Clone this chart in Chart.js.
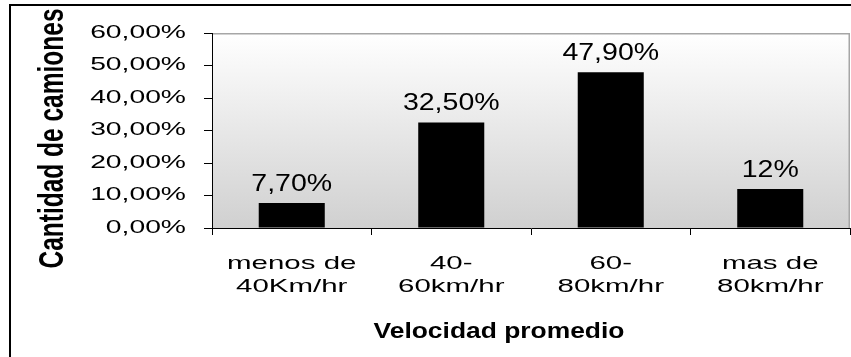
<!DOCTYPE html>
<html>
<head>
<meta charset="utf-8">
<script src="https://cdn.jsdelivr.net/npm/chart.js@4.4.1/dist/chart.umd.min.js"></script>
<style>
  html, body { margin:0; padding:0; background:#fff; overflow:hidden; }
  #frame { position:absolute; left:9px; top:4px; width:900px; height:400px; border:2px solid #000; }
  #chart { position:absolute; left:0; top:0; }
</style>
</head>
<body>
<div id="frame"></div>
<canvas id="chart" width="851" height="357"></canvas>
<script>
const categories = [["menos de", "40Km/hr"], ["40-", "60km/hr"], ["60-", "80km/hr"], ["mas de", "80km/hr"]];
const shares = [7.7, 32.5, 47.9, 12];
const shareLabels = ["7,70%", "32,50%", "47,90%", "12%"];
const yTicks = [0, 10, 20, 30, 40, 50, 60];
const yTitle = "Cantidad de camiones";
const xTitle = "Velocidad promedio";

const FONT = "'Liberation Sans', Arial, sans-serif";

// the source picture was widened, so horizontal text is drawn stretched (keyed by font size)
const TEXT_STRETCH = { 18: 1.57, 19: 1.55, 22: 1.2, 23: 1.24 };

function widenText(ctx) {
  const fillText = ctx.fillText.bind(ctx);
  ctx.fillText = (text, x, y, maxWidth) => {
    const m = ctx.getTransform();
    const size = parseFloat((ctx.font.match(/([\d.]+)px/) || [])[1]);
    const k = TEXT_STRETCH[size];
    if (!k || m.b !== 0) return fillText(text, x, y, maxWidth);
    ctx.save();
    ctx.translate(x, y);
    ctx.scale(k, 1);
    fillText(text, 0, 0);
    ctx.restore();
  };
}

const plotBackground = {
  id: "plotBackground",
  beforeDraw(chart) {
    const { ctx, chartArea: a } = chart;
    const g = ctx.createLinearGradient(0, a.top, 0, a.bottom);
    g.addColorStop(0, "#ffffff");
    g.addColorStop(1, "#d0d0d0");
    ctx.save();
    ctx.fillStyle = g;
    ctx.fillRect(a.left, a.top, a.right - a.left, a.bottom - a.top);
    ctx.strokeStyle = "#a6a6a6";
    ctx.lineWidth = 1.5;
    ctx.beginPath();
    ctx.moveTo(a.left, a.top + 0.75);
    ctx.lineTo(a.right - 0.75, a.top + 0.75);
    ctx.lineTo(a.right - 0.75, a.bottom);
    ctx.stroke();
    ctx.restore();
  }
};

const barLabels = {
  id: "barLabels",
  afterDatasetsDraw(chart) {
    const { ctx } = chart;
    ctx.save();
    ctx.font = "23px " + FONT;
    ctx.fillStyle = "#000";
    ctx.textAlign = "center";
    ctx.textBaseline = "alphabetic";
    chart.getDatasetMeta(0).data.forEach((bar, i) => {
      ctx.fillText(shareLabels[i], bar.x, bar.y - 12);
    });
    ctx.restore();
  }
};

const axisTitles = {
  id: "axisTitles",
  afterDraw(chart) {
    const { ctx, chartArea: a } = chart;
    ctx.save();
    ctx.fillStyle = "#000";
    ctx.textAlign = "center";
    ctx.textBaseline = "alphabetic";
    ctx.font = "bold 22px " + FONT;
    ctx.fillText(xTitle, (a.left + a.right) / 2 - 32, a.bottom + 110);
    // rotated title: glyph height runs along x, so it gets the same widening
    ctx.font = "bold 24.5px " + FONT;
    ctx.translate(63, (a.top + a.bottom) / 2 + 8);
    ctx.rotate(-Math.PI / 2);
    ctx.scale(1, 1.42);
    ctx.fillText(yTitle, 0, 0);
    ctx.restore();
  }
};

const ctx = document.getElementById("chart").getContext("2d");
widenText(ctx);

new Chart(ctx, {
  type: "bar",
  data: {
    labels: categories,
    datasets: [{
      data: shares,
      backgroundColor: "#000",
      borderWidth: 0,
      categoryPercentage: 1,
      barPercentage: 0.414
    }]
  },
  options: {
    responsive: false,
    animation: false,
    devicePixelRatio: 1,
    layout: { padding: { left: 0, top: 33, right: 1, bottom: 0 } },
    plugins: { legend: { display: false }, tooltip: { enabled: false } },
    scales: {
      x: {
        grid: { offset: true, drawOnChartArea: false, tickLength: 7, color: "#000" },
        border: { color: "#000" },
        ticks: { color: "#000", autoSkip: false, maxRotation: 0, padding: 17,
                 font: { family: FONT, size: 19, lineHeight: 1.21 } },
        afterFit: (s) => { s.height = 129; }
      },
      y: {
        min: yTicks[0],
        max: yTicks[yTicks.length - 1],
        grid: { drawOnChartArea: false, tickLength: 8, color: "#000" },
        border: { color: "#000" },
        ticks: { stepSize: yTicks[1] - yTicks[0], color: "#000", padding: 18,
                 font: { family: FONT, size: 18 },
                 callback: (v) => v.toFixed(2).replace(".", ",") + "%" },
        afterFit: (s) => { s.width = 212; }
      }
    }
  },
  plugins: [plotBackground, barLabels, axisTitles]
});
</script>
</body>
</html>
